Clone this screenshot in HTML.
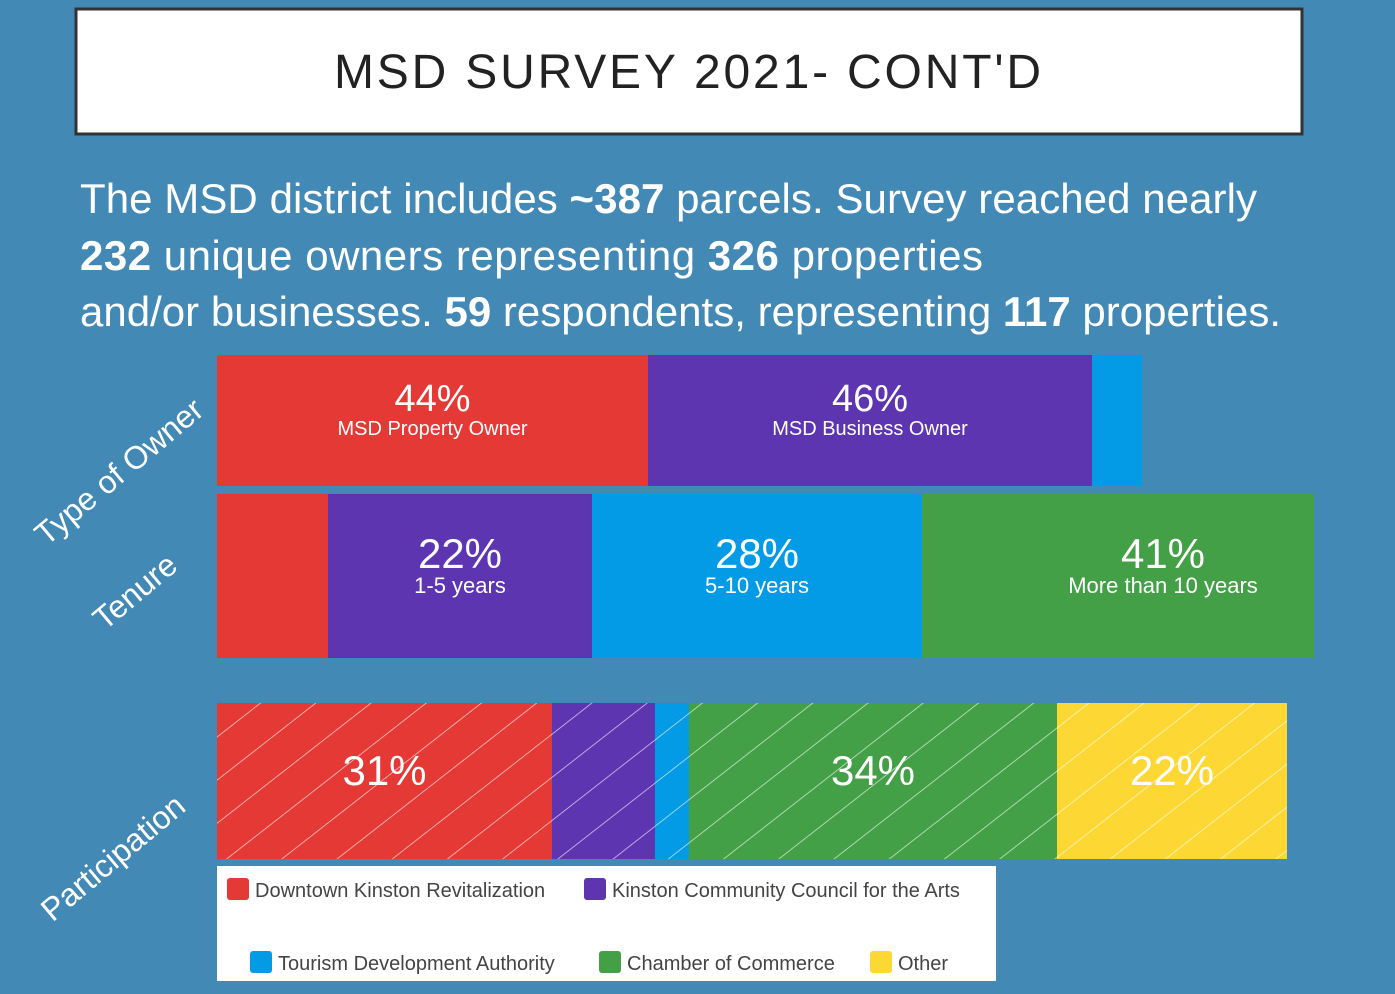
<!DOCTYPE html>
<html><head><meta charset="utf-8"><style>
html,body{margin:0;padding:0;background:#4289b5;}
svg{display:block;font-family:"Liberation Sans",sans-serif;}
</style></head><body>
<svg id="chart" width="1395" height="994" viewBox="0 0 1395 994">
<defs>
<pattern id="hatch" patternUnits="userSpaceOnUse" width="58" height="34" patternTransform="rotate(-38)">
<line x1="0" y1="0" x2="58" y2="0" stroke="rgba(255,255,255,0.75)" stroke-width="1.4"/>
</pattern>
</defs>
<rect x="0" y="0" width="1395" height="994" fill="#4289b5"/>
<rect x="76" y="9" width="1226" height="125" fill="#fff" stroke="#333" stroke-width="3"/>
<text x="689" y="88" text-anchor="middle" font-size="48" letter-spacing="3" textLength="710" fill="#222">MSD SURVEY 2021- CONT'D</text>
<g font-size="42" fill="#fff">
<text x="80" y="213" textLength="1177">The MSD district includes <tspan font-weight="bold">~387</tspan> parcels. Survey reached nearly</text>
<text x="80" y="270" textLength="903"><tspan font-weight="bold">232</tspan> unique owners representing <tspan font-weight="bold">326</tspan> properties</text>
<text x="80" y="326" textLength="1201">and/or businesses. <tspan font-weight="bold">59</tspan> respondents, representing <tspan font-weight="bold">117</tspan> properties.</text>
</g>
<g fill="#fff" font-size="32">
<text transform="translate(126,480) rotate(-40)" text-anchor="middle">Type of Owner</text>
<text transform="translate(142,600) rotate(-40)" text-anchor="middle">Tenure</text>
<text transform="translate(120,866) rotate(-40)" text-anchor="middle">Participation</text>
</g>
<g id="bars"></g>
<rect x="217" y="866" width="779" height="115" fill="#fff"/>
<g id="legend" font-size="20" fill="#444"></g>
</svg>
<script>
const colors = ["#e53935","#5e35b1","#039be5","#43a047","#fdd835"];
const ownerValues = [43.1, 44.4, 5.0];
const ownerPct = ["44%","46%",""];
const ownerNames = ["MSD Property Owner","MSD Business Owner",""];
const tenureValues = [11.1, 26.4, 33.0, 39.2];
const tenurePct = ["","22%","28%","41%"];
const tenureNames = ["","1-5 years","5-10 years","More than 10 years"];
const partValues = [33.5, 10.3, 3.4, 36.8, 23.0];
const partPct = ["31%","","","34%","22%"];
const legendNames = ["Downtown Kinston Revitalization","Kinston Community Council for the Arts","Tourism Development Authority","Chamber of Commerce","Other"];

const NS = "http://www.w3.org/2000/svg";
const x0 = 217, pxPerUnit = 10;
function xs(v){ return x0 + v*pxPerUnit; }
const bars = document.getElementById('bars');
function mk(tag, attrs, parent){ const e=document.createElementNS(NS,tag); for(const k in attrs) e.setAttribute(k,attrs[k]); parent.appendChild(e); return e; }

function drawRow(vals, pcts, names, y, h, rowName, hatch, pctSize, nameSize, pctDy, nameDy, lastShift){
  let acc = 0;
  vals.forEach((v,i)=>{
    const x = xs(acc), w = xs(acc+v)-x;
    const r = mk('rect',{x:x,y:y,width:w,height:h,fill:colors[i]},bars);
    
    
    if(hatch){
      const hr = mk('rect',{x:x,y:y,width:w,height:h,fill:'url(#hatch)'},bars);
      
      
    }
    let cx = x + w/2;
    if(i === vals.length-1 && lastShift) cx += lastShift;
    if(pcts[i]){
      const t = mk('text',{x:cx,y:y+pctDy,'text-anchor':'middle','font-size':pctSize,fill:'#fff'},bars);
      t.textContent = pcts[i];
      
      
    }
    if(names && names[i]){
      const t2 = mk('text',{x:cx,y:y+nameDy,'text-anchor':'middle','font-size':nameSize,fill:'#fff'},bars);
      t2.textContent = names[i];
      
      
    }
    acc += v;
  });
}
drawRow(ownerValues, ownerPct, ownerNames, 355, 131, 'owner', false, 38, 20, 56, 80, 0);
drawRow(tenureValues, tenurePct, tenureNames, 494, 164, 'tenure', false, 42, 22, 74, 99, 45);
drawRow(partValues, partPct, null, 703, 156, 'participation', true, 42, 0, 82, 0, 0);

const lg = document.getElementById('legend');
const legPos = [[227,878],[584,878],[250,951],[599,951],[870,951]];
legendNames.forEach((n,i)=>{
  const [x,y] = legPos[i];
  const sw = mk('rect',{x:x,y:y,width:22,height:22,rx:3,fill:colors[i]},lg);
  
  
  const t = mk('text',{x:x+28,y:y+19},lg);
  t.textContent = n;
  
  
});
</script>
</body></html>
